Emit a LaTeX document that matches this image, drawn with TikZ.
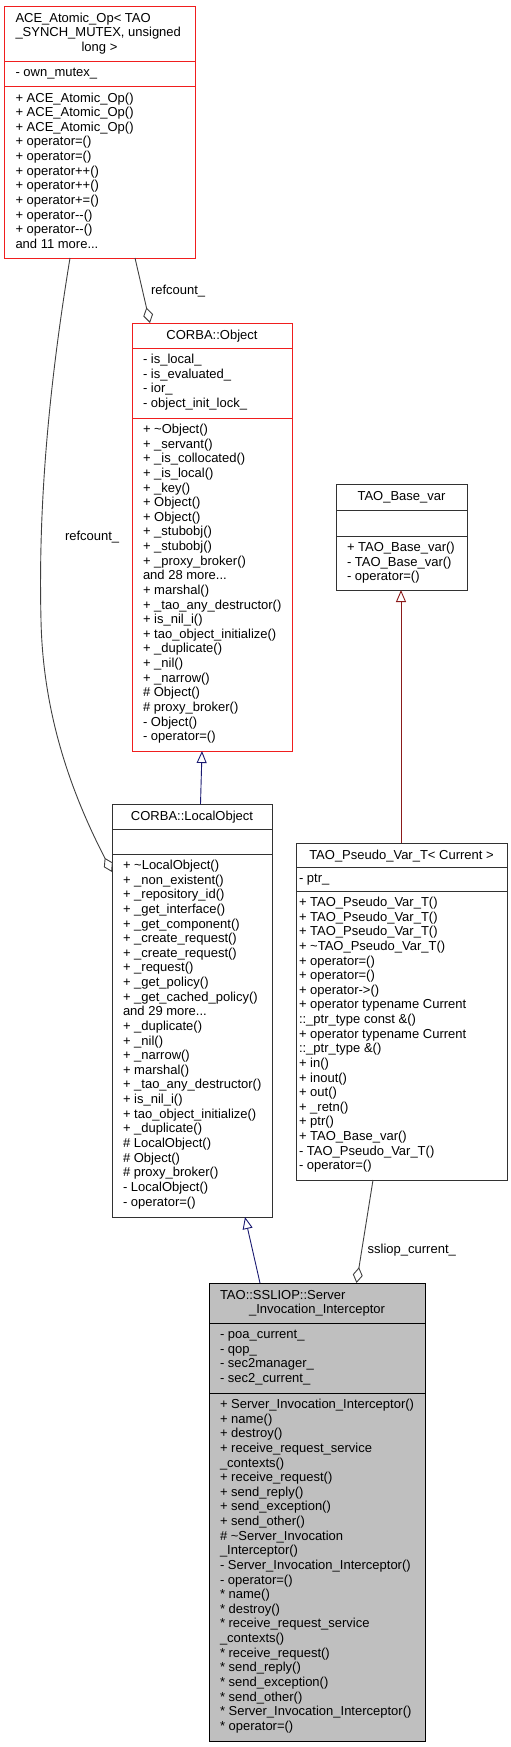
\documentclass[tikz,border=0pt]{standalone}
\usepackage{fontspec}
\setmainfont{Liberation Sans}
\usetikzlibrary{arrows.meta}
\definecolor{redc}{RGB}{240,30,30}
\definecolor{greyb}{RGB}{50,50,50}
\definecolor{grey75}{RGB}{191,191,191}
\definecolor{grey25}{RGB}{64,64,64}
\definecolor{midnight}{RGB}{25,25,112}
\definecolor{firebrick}{RGB}{139,26,26}
\newcommand\mydots{...}
\newcommand\boxlines[4]{%
  \foreach \t [count=\i from 0] in {#4} {
    \node[txt, anchor=base west] (#1\i) at (#2, #3+\i*14.63) {\t};
  }}
\tikzset{
  txt/.style={inner sep=0pt, outer sep=0pt, font=\fontsize{13bp}{14.63bp}\selectfont},
  umlbox/.style={draw, line width=1bp, inner sep=0pt, outer sep=0pt, anchor=north west},
  inhblue/.style={draw=midnight, line width=0.9bp, -{Triangle[open,length=12bp,width=10bp]}},
  inhred/.style={draw=firebrick, line width=0.9bp, -{Triangle[open,length=12bp,width=10bp]}},
  agg/.style={draw=grey25, line width=0.9bp, -{Diamond[open,length=16bp,width=10bp]}},
}
\begin{document}
\begin{tikzpicture}[x=1bp, y=-1bp]
\useasboundingbox (0,0) rectangle (511,1747);

% ACE_Atomic_Op
\node[umlbox, draw=redc, minimum width=191bp, minimum height=252bp] (ace) at (4,6) {};
\draw[redc, line width=1bp] (ace.west |- 0,61) -- (ace.east |- 0,61);
\draw[redc, line width=1bp] (ace.west |- 0,86) -- (ace.east |- 0,86);
\node[txt, anchor=base west] (ace-t1) at (15.5,22) {ACE\_Atomic\_Op< TAO};
\node[txt, anchor=base west] (ace-t2) at (15.5,36.6) {\_SYNCH\_MUTEX, unsigned};
\node[txt, anchor=base] (ace-t3) at (99.5,51.3) {long >};
\node[txt, anchor=base west] (ace-a0) at (15.5,76) {- own\_mutex\_};
\boxlines{ace-m}{15.5}{102}{+ ACE\_Atomic\_Op(), + ACE\_Atomic\_Op(), + ACE\_Atomic\_Op(), + operator=(), + operator=(), + operator++(), + operator++(), + operator+=(), + operator-{}-(), + operator-{}-(), and 11 more\mydots}

% CORBA::Object
\node[umlbox, draw=redc, minimum width=160bp, minimum height=428bp] (obj) at (132,323) {};
\draw[redc, line width=1bp] (obj.west |- 0,348) -- (obj.east |- 0,348);
\draw[redc, line width=1bp] (obj.west |- 0,418) -- (obj.east |- 0,418);
\node[txt, anchor=base] (obj-t) at (212,339) {CORBA::Object};
\boxlines{obj-a}{143}{363.5}{- is\_local\_, - is\_evaluated\_, - ior\_, - object\_init\_lock\_}
\boxlines{obj-m}{143}{433.5}{+ \textasciitilde{}Object(), + \_servant(), + \_is\_collocated(), + \_is\_local(), + \_key(), + Object(), + Object(), + \_stubobj(), + \_stubobj(), + \_proxy\_broker(), and 28 more\mydots, + marshal(), + \_tao\_any\_destructor(), + is\_nil\_i(), + tao\_object\_initialize(), + \_duplicate(), + \_nil(), + \_narrow(), \# Object(), \# proxy\_broker(), - Object(), - operator=()}

% CORBA::LocalObject
\node[umlbox, draw=greyb, minimum width=160bp, minimum height=413bp] (local) at (112,804) {};
\draw[greyb, line width=1bp] (local.west |- 0,829) -- (local.east |- 0,829);
\draw[greyb, line width=1bp] (local.west |- 0,854) -- (local.east |- 0,854);
\node[txt, anchor=base] (local-t) at (192,820) {CORBA::LocalObject};
\boxlines{local-m}{123}{869.5}{+ \textasciitilde{}LocalObject(), + \_non\_existent(), + \_repository\_id(), + \_get\_interface(), + \_get\_component(), + \_create\_request(), + \_create\_request(), + \_request(), + \_get\_policy(), + \_get\_cached\_policy(), and 29 more\mydots, + \_duplicate(), + \_nil(), + \_narrow(), + marshal(), + \_tao\_any\_destructor(), + is\_nil\_i(), + tao\_object\_initialize(), + \_duplicate(), \# LocalObject(), \# Object(), \# proxy\_broker(), - LocalObject(), - operator=()}

% TAO_Base_var
\node[umlbox, draw=greyb, minimum width=131bp, minimum height=106bp] (basevar) at (336,484) {};
\draw[greyb, line width=1bp] (basevar.west |- 0,510) -- (basevar.east |- 0,510);
\draw[greyb, line width=1bp] (basevar.west |- 0,536) -- (basevar.east |- 0,536);
\node[txt, anchor=base] (basevar-t) at (401.5,500) {TAO\_Base\_var};
\boxlines{basevar-m}{347}{551.5}{+ TAO\_Base\_var(), - TAO\_Base\_var(), - operator=()}

% TAO_Pseudo_Var_T
\node[umlbox, draw=greyb, minimum width=211bp, minimum height=337bp] (pseudo) at (296,843) {};
\draw[greyb, line width=1bp] (pseudo.west |- 0,867) -- (pseudo.east |- 0,867);
\draw[greyb, line width=1bp] (pseudo.west |- 0,891) -- (pseudo.east |- 0,891);
\node[txt, anchor=base] (pseudo-t) at (401.5,859) {TAO\_Pseudo\_Var\_T< Current >};
\node[txt, anchor=base west] (pseudo-a0) at (299,882.5) {- ptr\_};
\boxlines{pseudo-m}{299}{906.5}{+ TAO\_Pseudo\_Var\_T(), + TAO\_Pseudo\_Var\_T(), + TAO\_Pseudo\_Var\_T(), + \textasciitilde{}TAO\_Pseudo\_Var\_T(), + operator=(), + operator=(), + operator->(), + operator typename Current, ::\_ptr\_type const \&(), + operator typename Current, ::\_ptr\_type \&(), + in(), + inout(), + out(), + \_retn(), + ptr(), + TAO\_Base\_var(), - TAO\_Pseudo\_Var\_T(), - operator=()}

% TAO::SSLIOP::Server_Invocation_Interceptor
\node[umlbox, draw=black, fill=grey75, minimum width=216bp, minimum height=458bp] (main) at (209,1283) {};
\draw[black, line width=1bp] (main.west |- 0,1323) -- (main.east |- 0,1323);
\draw[black, line width=1bp] (main.west |- 0,1393) -- (main.east |- 0,1393);
\node[txt, anchor=base west] (main-t1) at (220,1299) {TAO::SSLIOP::Server};
\node[txt, anchor=base] (main-t2) at (317,1313.6) {\_Invocation\_Interceptor};
\boxlines{main-a}{220}{1338.5}{- poa\_current\_, - qop\_, - sec2manager\_, - sec2\_current\_}
\boxlines{main-m}{220}{1408.5}{+ Server\_Invocation\_Interceptor(), + name(), + destroy(), + receive\_request\_service, \_contexts(), + receive\_request(), + send\_reply(), + send\_exception(), + send\_other(), \# \textasciitilde{}Server\_Invocation, \_Interceptor(), - Server\_Invocation\_Interceptor(), - operator=(), * name(), * destroy(), * receive\_request\_service, \_contexts(), * receive\_request(), * send\_reply(), * send\_exception(), * send\_other(), * Server\_Invocation\_Interceptor(), * operator=()}

% connectors
\draw[agg] (ace.south -| 135,0) -- (obj.north -| 150,0);
\node[txt, anchor=base west] (lbl1) at (151,294) {refcount\_};
\draw[agg] (ace.south -| 70,0) .. controls (50,380) and (38,500) .. (41,620)
  .. controls (43,720) and (75,800) .. (local.west |- 0,872);
\node[txt, anchor=base west] (lbl2) at (65,540) {refcount\_};
\draw[inhblue] (local.north -| 200.5,0) -- (obj.south -| 202,0);
\draw[inhred] (pseudo.north -| 401,0) -- (basevar.south -| 401,0);
\draw[inhblue] (main.north -| 260,0) -- (local.south -| 245,0);
\draw[agg] (pseudo.south -| 373,0) -- (main.north -| 356.5,0);
\node[txt, anchor=base west] (lbl3) at (367.7,1253) {ssliop\_current\_};
\end{tikzpicture}
\end{document}
